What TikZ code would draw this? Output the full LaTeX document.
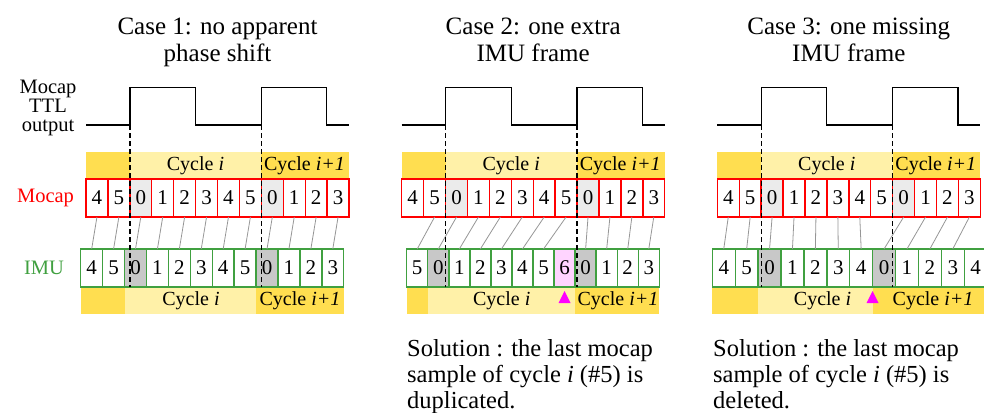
\documentclass[tikz,border=0pt]{standalone}
\usepackage{fontspec}
\setmainfont{Liberation Serif}
\usetikzlibrary{positioning}

\definecolor{mocapred}{RGB}{255,0,0}
\definecolor{imugreen}{RGB}{64,160,64}
\definecolor{cycledark}{RGB}{255,222,80}
\definecolor{cyclelight}{RGB}{255,241,168}
\definecolor{zerolight}{RGB}{235,235,235}
\definecolor{zerodark}{RGB}{200,200,200}
\definecolor{extrapink}{RGB}{255,212,255}
\definecolor{markmagenta}{RGB}{255,0,255}
\definecolor{linkgray}{RGB}{150,150,150}

\tikzset{
cell/.style={draw, line width=1.4pt, fill=white, minimum width=21.92pt, minimum height=38pt,
  inner sep=0pt, outer sep=0pt, anchor=west, font=\fontsize{21}{21}\selectfont},
mocapcell/.style={cell, draw=mocapred},
imucell/.style={cell, draw=imugreen},
usual/.style={},
zero/.style={fill=zerolight},
imuzero/.style={fill=zerodark},
extra/.style={fill=extrapink},
darkband/.style={fill=cycledark},
lightband/.style={fill=cyclelight},
cyclelabel/.style={font=\fontsize{20}{20}\selectfont, inner sep=0pt},
rowlabel/.style={font=\fontsize{20.5}{19}\selectfont, align=center, inner sep=0pt},
title/.style={font=\fontsize{25}{27}\selectfont, align=center, anchor=north, inner sep=0pt},
solution/.style={font=\fontsize{24.5}{26}\selectfont, align=left, anchor=north west, inner sep=0pt},
ttl/.style={line width=1.3pt},
cut/.style={line width=1.3pt, dash pattern=on 5pt off 3pt},
link/.style={draw=linkgray, line width=0.8pt},
marker/.style={fill=markmagenta},
}

\begin{document}
\begin{tikzpicture}[x=1pt, y=-1pt]
    \useasboundingbox (0,0) rectangle (984,412);

    % what the three cases share
    \foreach \p/\xo/\case in {1/86/{Case 1: no apparent\\phase shift},
        2/401.7/{Case 2: one extra\\IMU frame}, 3/717.3/{Case 3: one missing\\IMU frame}}{
      \begin{scope}[xshift=\xo pt]
        \node[title] (case\p) at (131.5,18) {\case};
        \fill[darkband] (0,151.7) rectangle (44,179);
        \fill[lightband] (44,151.7) rectangle (175.4,179);
        \fill[darkband] (175.4,151.7) rectangle (263,179);
        \node[cyclelabel] (top\p a) at (109.5,165.3) {Cycle \textit{i}};
        \node[cyclelabel] (top\p b) at (218.5,165.3) {Cycle \textit{i+1}};
        \foreach \val/\look [count=\k from 0] in {4/usual,5/usual,0/zero,1/usual,2/usual,3/usual,
            4/usual,5/usual,0/zero,1/usual,2/usual,3/usual}
          \node[mocapcell,\look] (m\p-\k) at (\k*21.92,198) {\val};
        \draw[ttl] (0,125) -- (44,125) coordinate (ttl\p a) -- (44,87.5) -- (109.5,87.5)
          -- (109.5,125) -- (175.4,125) coordinate (ttl\p b) -- (175.4,87.5) -- (240.7,87.5)
          -- (240.7,125) -- (263,125);
      \end{scope}
    }

    % case 1
    \begin{scope}[xshift=86pt]
      \fill[darkband] (-5.3,287) rectangle (38.5,314);
      \fill[lightband] (38.5,287) rectangle (170.1,314);
      \fill[darkband] (170.1,287) rectangle (257.7,314);
      \node[cyclelabel] (bot1a) at (105,300.5) {Cycle \textit{i}};
      \node[cyclelabel] (bot1b) at (214,300.5) {Cycle \textit{i+1}};
      \foreach \val/\look [count=\k from 0] in {4/usual,5/usual,0/imuzero,1/usual,2/usual,3/usual,
          4/usual,5/usual,0/imuzero,1/usual,2/usual,3/usual}
        \node[imucell,\look] (i1-\k) at (-5.3+\k*21.92,268) {\val};
    \end{scope}
    \foreach \k in {0,...,11}
      \draw[link] (m1-\k.south) -- (i1-\k.north);

    % case 2
    \begin{scope}[xshift=401.7pt]
      \fill[darkband] (5,287) rectangle (26.05,314);
      \fill[lightband] (26.05,287) rectangle (173.4,314);
      \fill[darkband] (173.4,287) rectangle (257.6,314);
      \node[cyclelabel] (bot2a) at (100,300.5) {Cycle \textit{i}};
      \node[cyclelabel] (bot2b) at (216.3,300.5) {Cycle \textit{i+1}};
      \foreach \val/\look [count=\k from 0] in {5/usual,0/imuzero,1/usual,2/usual,3/usual,4/usual,
          5/usual,6/extra,0/imuzero,1/usual,2/usual,3/usual}
        \node[imucell,\look,minimum width=21.05pt] (i2-\k) at (5+\k*21.05,268) {\val};
    \end{scope}
    \foreach \a/\b in {1/0,2/1,3/2,4/3,5/4,6/5,7/6,8/8,9/9,10/10,11/11}
      \draw[link] (m2-\a.south) -- (i2-\b.north);

    % case 3
    \begin{scope}[xshift=717.3pt]
      \fill[darkband] (-5,287) rectangle (40.8,314);
      \fill[lightband] (40.8,287) rectangle (155.3,314);
      \fill[darkband] (155.3,287) rectangle (269.8,314);
      \node[cyclelabel] (bot3a) at (105.2,300.5) {Cycle \textit{i}};
      \node[cyclelabel] (bot3b) at (215.7,300.5) {Cycle \textit{i+1}};
      \foreach \val/\look [count=\k from 0] in {4/usual,5/usual,0/imuzero,1/usual,2/usual,3/usual,
          4/usual,0/imuzero,1/usual,2/usual,3/usual,4/usual}
        \node[imucell,\look,minimum width=22.9pt] (i3-\k) at (-5+\k*22.9,268) {\val};
    \end{scope}
    \foreach \a/\b in {0/0,1/1,2/2,3/3,4/4,5/5,6/6,8/7,9/8,10/9,11/10}
      \draw[link] (m3-\a.south) -- (i3-\b.north);

    % cycle starts
    \foreach \p in {1,2,3}{
      \draw[cut] (ttl\p a) -- (ttl\p a |- i\p-0.south);
      \draw[cut] (ttl\p b) -- (ttl\p b |- i\p-0.south);
    }

    \fill[marker] ([yshift=-4pt]i2-7.south) -- ++(6,12) -- ++(-12,0) -- cycle;
    \fill[marker] ([yshift=-4pt]i3-7.south west) -- ++(6,12) -- ++(-12,0) -- cycle;

    \node[rowlabel, anchor=north] (ttllabel) at (48,79.4) {Mocap\\TTL\\output};
    \node[rowlabel, text=mocapred] (mocaplabel) at (45.5,198) {Mocap};
    \node[rowlabel, text=imugreen] (imulabel) at (44,268) {IMU};

    \node[solution] (solution2) at (407,339.3) {Solution : the last mocap\\sample of cycle \textit{i} (\#5) is\\duplicated.};
    \node[solution] (solution3) at (713,339.3) {Solution : the last mocap\\sample of cycle \textit{i} (\#5) is\\deleted.};

\end{tikzpicture}
\end{document}
